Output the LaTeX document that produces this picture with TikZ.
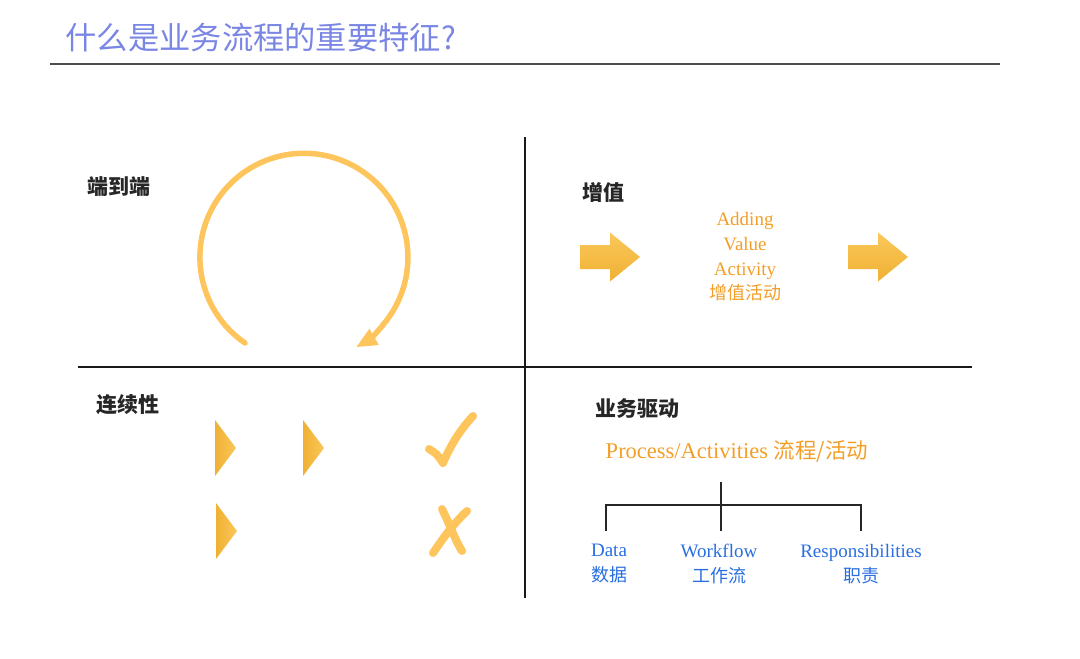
\documentclass[tikz,border=0pt]{standalone}
\usepackage{fontspec}
\usepackage{tikz}
\usetikzlibrary{arrows.meta}
\setmainfont{Liberation Serif}
\newfontfamily\cjk{Noto Sans CJK SC}
\definecolor{titleblue}{RGB}{122,134,228}
\definecolor{arcyellow}{RGB}{253,197,92}
\definecolor{arrowlight}{RGB}{250,200,90}
\definecolor{arrowdark}{RGB}{240,176,52}
\definecolor{textorange}{RGB}{243,158,40}
\definecolor{textblue}{RGB}{40,110,225}

\begin{document}
\begin{tikzpicture}[x=1pt,y=-1pt,
    head/.style={font=\cjk\bfseries\fontsize{21}{24}\selectfont, text=black!85},
    orangetxt/.style={text=textorange, align=center},
    bluetxt/.style={text=textblue, align=center, font=\fontsize{19}{25}\selectfont},
    tree/.style={line width=2.2pt, black!85},
    markline/.style={arcyellow, line width=8pt, line cap=round, line join=round},
    fatarrow/.pic={\shade[top color=arrowlight, bottom color=arrowdark]
        (-30,-12) -- (0,-12) -- (0,-24.5) -- (30,0) -- (0,24.5) -- (0,12) -- (-30,12) -- cycle;},
    tri/.pic={\shade[left color=arrowdark, right color=arrowlight]
        (0,-28) -- (21,0) -- (0,28) -- cycle;}]
        \useasboundingbox (0,0) rectangle (1080,659);
        % title and rule
        \node[anchor=west, text=titleblue, font=\cjk\fontsize{31.3}{34}\selectfont] (title) at (62,38) {什么是业务流程的重要特征?};
        \draw[black!70, line width=2pt] (50,64) -- (1000,64);
        % quadrant lines
        \draw[black!90, line width=2pt] (525,137) -- (525,598);
        \draw[black!90, line width=2pt] (78,367) -- (972,367);
        % headings
        \node[head] (endtoend) at (119,187) {端到端};
        \node[head] (addvalue) at (603,192) {增值};
        \node[head] (continuity) at (128,405) {连续性};
        \node[head] (bizdriven) at (637,408) {业务驱动};
        % end to end loop
        \draw[arcyellow, line width=5.5pt, line cap=round, -{Triangle[length=21pt,width=17pt]}]
            (245,343) arc[start angle=235.5, end angle=-60, radius=104pt];
        % adding value
        \pic at (610,257) {fatarrow};
        \pic at (878,257) {fatarrow};
        \node[orangetxt, font=\fontsize{19}{24.7}\selectfont] (activity) at (745,257)
            {Adding\\Value\\Activity\\{\cjk\fontsize{18}{24.7}\selectfont 增值活动}};
        % continuity
        \pic at (215,448) {tri};
        \pic at (303,448) {tri};
        \pic at (216,531) {tri};
        \draw[markline] (429,449) .. controls (437,454) .. (443,463)
            .. controls (452,442) and (462,428) .. (473,416);
        \draw[markline] (442,509) .. controls (450,525) and (455,540) .. (462,551);
        \draw[markline] (467,511) .. controls (452,525) and (442,540) .. (433,553);
        % business driven
        \node[orangetxt, font=\fontsize{22.5}{26}\selectfont] (process) at (737,451)
            {Process/Activities {\cjk\fontsize{21.5}{26}\selectfont 流程/活动}};
        \coordinate (stemtop) at (721,482);
        \coordinate (stemmid) at (721,505);
        \draw[tree] (stemtop) -- (721,531);
        \draw[tree] (606,531) |- (stemmid) -| (861,531);
        \node[bluetxt] (data) at (609,564) {Data\\{\cjk\fontsize{18}{25}\selectfont 数据}};
        \node[bluetxt] (workflow) at (719,564) {Workflow\\{\cjk\fontsize{18}{25}\selectfont 工作流}};
        \node[bluetxt] (duty) at (861,564) {Responsibilities\\{\cjk\fontsize{18}{25}\selectfont 职责}};
      \end{tikzpicture}
\end{document}
